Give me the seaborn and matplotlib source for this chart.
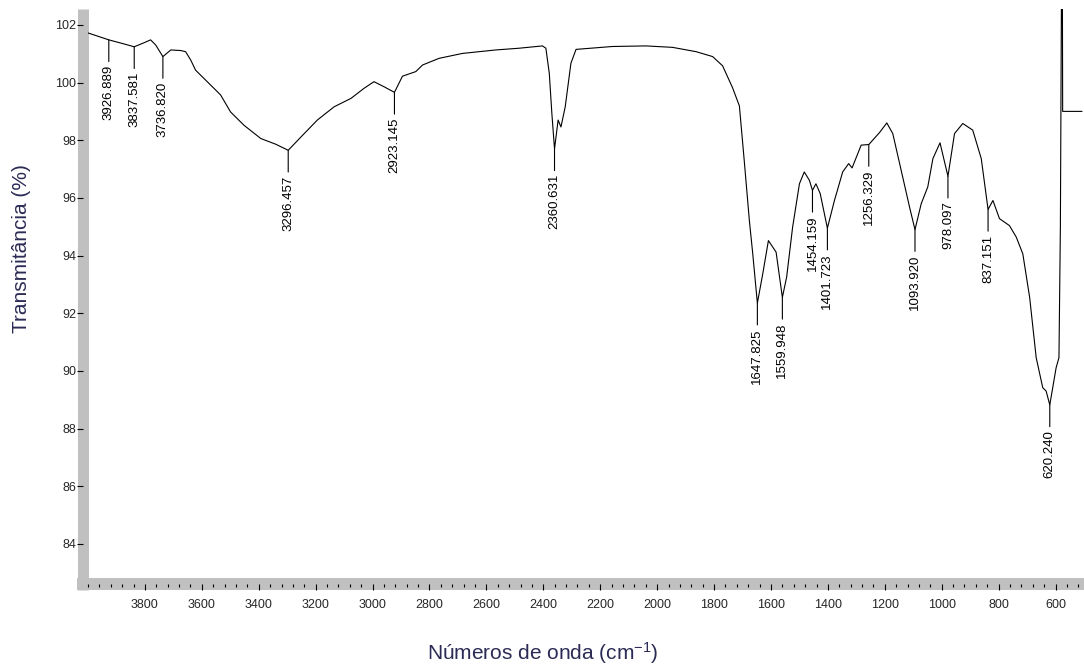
import matplotlib
matplotlib.use('Agg')
import matplotlib.pyplot as plt
import seaborn as sns
import pandas as pd
import numpy as np
from matplotlib.ticker import MultipleLocator

# FTIR spectrum (cm-1, %T)
wavenumber = [4000, 3926.889, 3874, 3837.581, 3803, 3780, 3762, 3736.820, 3709, 3674,
              3657, 3639, 3622, 3581, 3534, 3499, 3452, 3393, 3340, 3296.457,
              3252, 3194, 3135, 3076, 3030, 2995, 2959, 2923.145, 2895, 2848,
              2824, 2766, 2684, 2567, 2485, 2403, 2391, 2379, 2370, 2360.631,
              2348, 2338, 2323, 2303, 2285, 2157, 2039, 1946, 1863, 1805,
              1770, 1735, 1711, 1694, 1676, 1664, 1647.825, 1629, 1609, 1582,
              1559.948, 1545, 1524, 1500, 1483, 1465, 1454.159, 1442, 1427, 1401.723,
              1377, 1348, 1327, 1315, 1283, 1256.329, 1219, 1193, 1172, 1137,
              1113, 1093.920, 1072, 1049, 1031, 1006, 978.097, 955, 926, 891,
              861, 837.151, 820, 797, 762, 738, 715, 691, 668, 645,
              633, 620.240, 598, 588, 583, 579, 576, 575, 507]
transmittance = [101.72, 101.48, 101.34, 101.24, 101.38, 101.48, 101.30, 100.90, 101.13, 101.11,
                 101.07, 100.78, 100.43, 100.03, 99.57, 98.98, 98.52, 98.06, 97.86, 97.65,
                 98.11, 98.70, 99.16, 99.45, 99.80, 100.03, 99.85, 99.66, 100.22, 100.38,
                 100.61, 100.84, 101.01, 101.13, 101.19, 101.27, 101.19, 100.32, 98.93, 97.70,
                 98.70, 98.46, 99.16, 100.67, 101.15, 101.25, 101.27, 101.22, 101.07, 100.90,
                 100.58, 99.82, 99.19, 97.30, 95.22, 94.06, 92.35, 93.36, 94.52, 94.12,
                 92.55, 93.25, 94.98, 96.49, 96.90, 96.61, 96.26, 96.49, 96.15, 94.95,
                 95.91, 96.90, 97.19, 97.04, 97.83, 97.85, 98.26, 98.60, 98.23, 96.72,
                 95.68, 94.90, 95.80, 96.38, 97.36, 97.91, 96.75, 98.23, 98.58, 98.35,
                 97.36, 95.60, 95.91, 95.28, 95.04, 94.64, 94.06, 92.55, 90.46, 89.42,
                 89.30, 88.82, 90.11, 90.46, 95.0, 103.5, 103.5, 99.0, 99.0]

peak_wn = [3926.889, 3837.581, 3736.820, 3296.457, 2923.145, 2360.631, 1647.825,
           1559.948, 1454.159, 1401.723, 1256.329, 1093.920, 978.097, 837.151, 620.240]
peak_labels = ['3926.889', '3837.581', '3736.820', '3296.457', '2923.145', '2360.631', '1647.825',
               '1559.948', '1454.159', '1401.723', '1256.329', '1093.920', '978.097', '837.151', '620.240']

x_ticks = [3800, 3600, 3400, 3200, 3000, 2800, 2600, 2400, 2200, 2000, 1800, 1600, 1400, 1200, 1000, 800, 600]
y_ticks = [84, 86, 88, 90, 92, 94, 96, 98, 100, 102]

sns.set_style('white')
plt.rcParams['font.family'] = ['Liberation Sans', 'DejaVu Sans']
plt.rcParams['mathtext.default'] = 'regular'

LABEL_COLOR = '#2b2b55'
BAR_COLOR = '#c0c0c0'
PX = 0.72  # points per pixel at dpi 100

df = pd.DataFrame({'wn': wavenumber, 't': transmittance})

fig = plt.figure(figsize=(10.84, 6.66), dpi=100)
ax = fig.add_axes([88 / 1084, 88 / 666, 996 / 1084, 569 / 666])

sns.lineplot(data=df, x='wn', y='t', ax=ax, color='black', linewidth=0.8,
             estimator=None, sort=False)

ax.set_xlim(4000, 500)
ax.set_ylim(82.82, 102.55)

# peak markers: short drop line then rotated label
peak_t = np.interp(peak_wn, wavenumber[::-1], transmittance[::-1])
for wn, t, lab in zip(peak_wn, peak_t, peak_labels):
    ax.annotate(lab, xy=(wn, t), xytext=(0, -18), textcoords='offset points',
                rotation=90, ha='center', va='top', fontsize=9.5, color='black',
                arrowprops=dict(arrowstyle='-', color='black', lw=0.8,
                                shrinkA=0, shrinkB=0))

# thick grey axis bars, drawn under the ticks
for side in ['top', 'right']:
    ax.spines[side].set_visible(False)
for side in ['left', 'bottom']:
    ax.spines[side].set_color(BAR_COLOR)
    ax.spines[side].set_capstyle('butt')
    ax.spines[side].set_zorder(0.5)
ax.spines['left'].set_position(('outward', 5.5 * PX))
ax.spines['left'].set_linewidth(11 * PX)
ax.spines['left'].set_bounds(82.82 - 12 / 28.83, 102.55)
ax.spines['bottom'].set_position(('outward', 6 * PX))
ax.spines['bottom'].set_linewidth(12 * PX)
ax.spines['bottom'].set_bounds(4000 + 11 / 0.2843, 500)

ax.set_xticks(x_ticks)
ax.set_xticklabels([str(v) for v in x_ticks])
ax.xaxis.set_minor_locator(MultipleLocator(40))
ax.set_yticks(y_ticks)
ax.set_yticklabels([str(v) for v in y_ticks])

ax.tick_params(axis='x', which='major', direction='out', length=6 * PX, width=0.8,
               color='black', labelsize=9, pad=6.5, bottom=True)
ax.tick_params(axis='x', which='minor', direction='out', length=3 * PX, width=0.8,
               color='black', bottom=True)
ax.tick_params(axis='y', which='major', direction='out', length=6 * PX, width=0.8,
               color='black', labelsize=9, pad=0, left=True)

ax.set_xlabel('')
ax.set_ylabel('')
fig.text(543 / 1084, 6 / 666, 'Números de onda (cm$^{-1}$)', ha='center', va='baseline',
         fontsize=15, color=LABEL_COLOR)
fig.text(21.5 / 1084, 1 - 249 / 666, 'Transmitância (%)', rotation=90, ha='center',
         va='center', fontsize=15, color=LABEL_COLOR)

fig.savefig('out.png', dpi=100)
plt.close(fig)
